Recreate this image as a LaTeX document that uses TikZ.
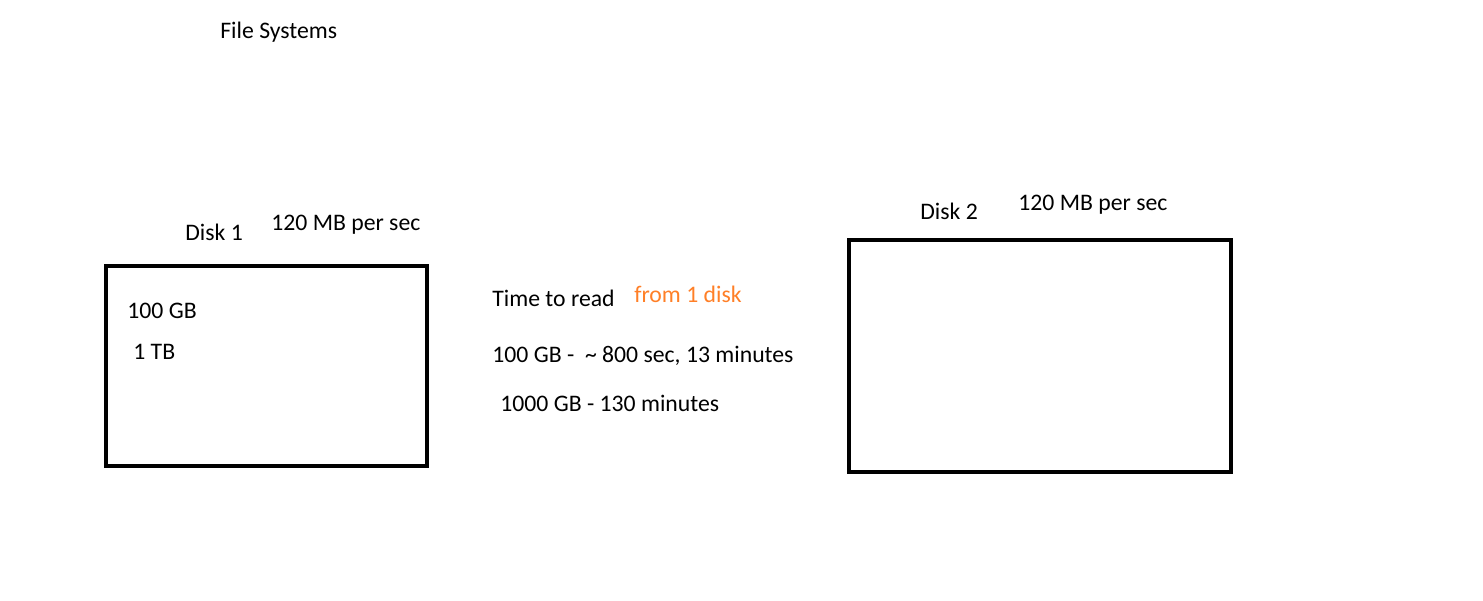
\documentclass[tikz,border=0pt]{standalone}
\usepackage{fontspec}
\setmainfont{Carlito}
\definecolor{hlorange}{RGB}{255,127,39}
\begin{document}
\begin{tikzpicture}[x=0.02cm,y=-0.02cm,
  lbl/.style={anchor=base west,inner sep=0pt,font=\fontsize{13.5}{16}\selectfont},
  disk/.style={draw=black,line width=2.27pt}]
\useasboundingbox (0,0) rectangle (1483,600);
\node[lbl] (title) at (220,38) {File Systems};
% Disk 1
\node[lbl] (d1name) at (185,240) {Disk 1};
\node[lbl] (d1rate) at (271,230) {120 MB per sec};
\draw[disk] (106,266) rectangle (427,466);
\node[lbl] (d1a) at (127,318) {100 GB};
\node[lbl] (d1b) at (133,359) {1 TB};
% middle notes
\node[lbl] (ttr) at (492,306) {Time to read};
\node[lbl,text=hlorange] (from) at (634,302) {from 1 disk};
\node[lbl] (l1) at (492,362) {100 GB -\ \ \textasciitilde{} 800 sec, 13 minutes};
\node[lbl] (l2) at (500,411) {1000 GB - 130 minutes};
% Disk 2
\node[lbl] (d2name) at (920,219) {Disk 2};
\node[lbl] (d2rate) at (1018,210) {120 MB per sec};
\draw[disk] (849,240) rectangle (1231,472);
\end{tikzpicture}
\end{document}
